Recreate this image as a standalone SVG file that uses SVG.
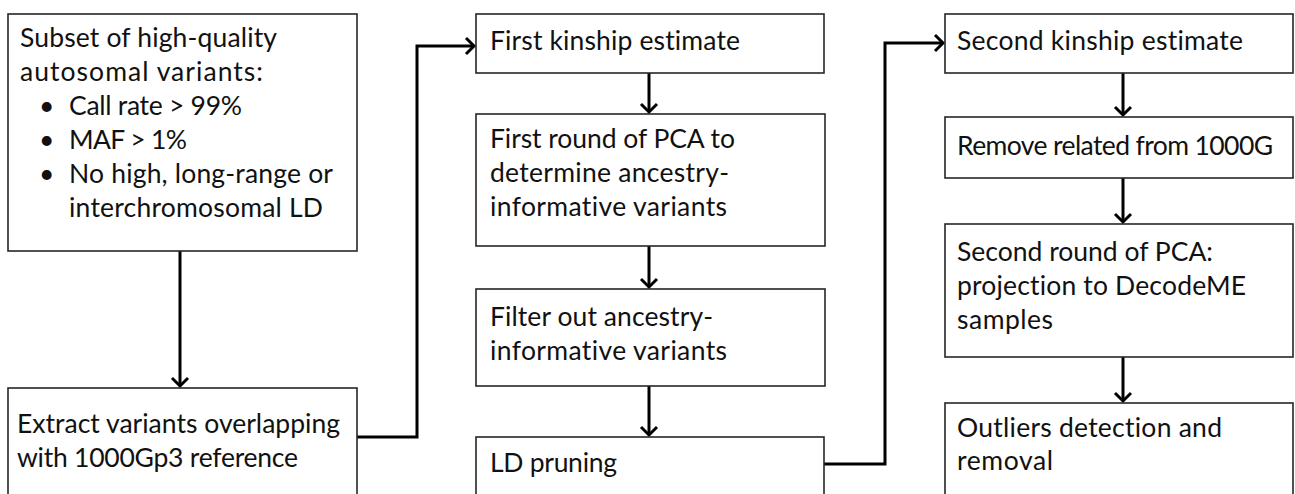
<svg xmlns="http://www.w3.org/2000/svg" width="1295" height="494" viewBox="0 0 1295 494">
<style>
.box{fill:#fff;stroke:#262626;stroke-width:1.6}
.t{font-family:Lato,"Open Sans",sans-serif;font-size:26.5px;fill:#111;font-variant-ligatures:none}
.c{fill:none;stroke:#000;stroke-width:3}
</style>
<defs>
<marker id="arr" markerUnits="userSpaceOnUse" markerWidth="24" markerHeight="24" refX="11" refY="10" orient="auto" overflow="visible">
<path d="M3,2 L11,10 L3,18" fill="none" stroke="#000" stroke-width="3"/>
</marker>
</defs>
<rect width="1295" height="494" fill="#fff"/>
<g id="connectors">
<line class="c" x1="180" y1="251" x2="180" y2="386" marker-end="url(#arr)"/>
<path class="c" d="M357,437 H417 V46 H474" marker-end="url(#arr)"/>
<line class="c" x1="649" y1="73" x2="649" y2="112" marker-end="url(#arr)"/>
<line class="c" x1="649" y1="246" x2="649" y2="287" marker-end="url(#arr)"/>
<line class="c" x1="649" y1="386" x2="649" y2="435" marker-end="url(#arr)"/>
<path class="c" d="M824,464 H885 V43 H943" marker-end="url(#arr)"/>
<line class="c" x1="1123" y1="73" x2="1123" y2="115" marker-end="url(#arr)"/>
<line class="c" x1="1123" y1="178" x2="1123" y2="222" marker-end="url(#arr)"/>
<line class="c" x1="1123" y1="357" x2="1123" y2="401" marker-end="url(#arr)"/>
</g>
<g id="subset">
<rect class="box" x="8" y="14" width="349" height="237"/>
<text class="t" x="20" y="47" textLength="257">Subset of high-quality</text>
<text class="t" x="20" y="81" textLength="243">autosomal variants:</text>
<text class="t" x="39" y="115">•</text>
<text class="t" x="69" y="115" textLength="173">Call rate &gt; 99%</text>
<text class="t" x="39" y="149">•</text>
<text class="t" x="69" y="149" textLength="118">MAF &gt; 1%</text>
<text class="t" x="39" y="183">•</text>
<text class="t" x="69" y="183" textLength="264">No high, long-range or</text>
<text class="t" x="69" y="217" textLength="254">interchromosomal LD</text>
</g>
<g id="extract">
<rect class="box" x="8" y="388" width="349" height="130"/>
<text class="t" x="17" y="433" textLength="323">Extract variants overlapping</text>
<text class="t" x="17" y="467" textLength="281">with 1000Gp3 reference</text>
</g>
<g id="kin1">
<rect class="box" x="476" y="14" width="348" height="59"/>
<text class="t" x="490" y="50" textLength="250">First kinship estimate</text>
</g>
<g id="pca1">
<rect class="box" x="476" y="114" width="349" height="132"/>
<text class="t" x="490" y="148" textLength="245">First round of PCA to</text>
<text class="t" x="490" y="182" textLength="239">determine ancestry-</text>
<text class="t" x="490" y="216" textLength="237">informative variants</text>
</g>
<g id="filter">
<rect class="box" x="476" y="289" width="349" height="97"/>
<text class="t" x="490" y="326" textLength="223">Filter out ancestry-</text>
<text class="t" x="490" y="360" textLength="237">informative variants</text>
</g>
<g id="ldprune">
<rect class="box" x="476" y="437" width="348" height="80"/>
<text class="t" x="490" y="472" textLength="127">LD pruning</text>
</g>
<g id="kin2">
<rect class="box" x="945" y="14" width="348" height="59"/>
<text class="t" x="957" y="50" textLength="286">Second kinship estimate</text>
</g>
<g id="remove">
<rect class="box" x="945" y="117" width="348" height="61"/>
<text class="t" x="957" y="155" textLength="316">Remove related from 1000G</text>
</g>
<g id="pca2">
<rect class="box" x="945" y="224" width="348" height="133"/>
<text class="t" x="957" y="261" textLength="256">Second round of PCA:</text>
<text class="t" x="957" y="295" textLength="289">projection to DecodeME</text>
<text class="t" x="957" y="329" textLength="96">samples</text>
</g>
<g id="outliers">
<rect class="box" x="945" y="403" width="348" height="100"/>
<text class="t" x="957" y="437" textLength="265">Outliers detection and</text>
<text class="t" x="957" y="470" textLength="96">removal</text>
</g>
</svg>
